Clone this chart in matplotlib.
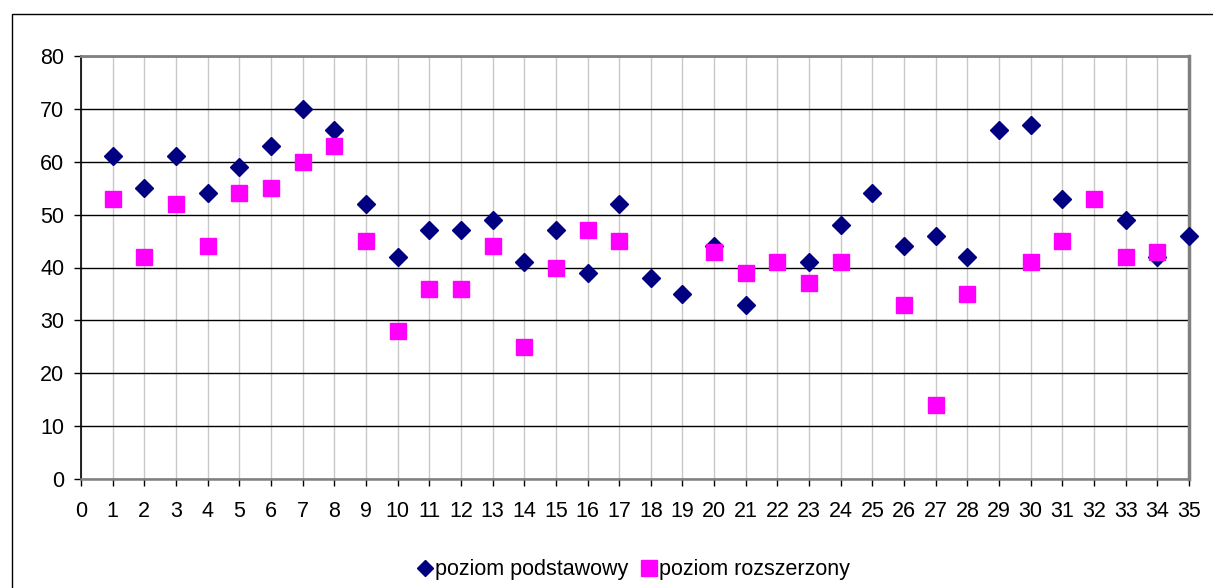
import numpy as np
import matplotlib
matplotlib.use('Agg')
import matplotlib.pyplot as plt
from matplotlib.patches import Rectangle

plt.rcParams['font.family'] = ['Liberation Sans', 'DejaVu Sans']

# Dane (dla 22 i 32 romb nie jest widoczny - schowany pod kwadratem)
nr = list(range(1, 36))
podstawowy = [61, 55, 61, 54, 59, 63, 70, 66, 52, 42, 47, 47, 49, 41, 47, 39, 52, 38, 35, 44,
              33, np.nan, 41, 48, 54, 44, 46, 42, 66, 67, 53, np.nan, 49, 42, 46]
rozszerzony = [53, 42, 52, 44, 54, 55, 60, 63, 45, 28, 36, 36, 44, 25, 40, 47, 45, np.nan, np.nan, 43,
               39, 41, 37, 41, np.nan, 33, 14, 35, np.nan, 41, 45, 53, 42, 43, np.nan]

fig = plt.figure(figsize=(12.13, 5.88), dpi=100)
ax = fig.add_axes([81 / 1213, 1 - 479 / 588, (1189 - 81) / 1213, (479 - 56) / 588])

ax.plot(nr, podstawowy, linestyle='none', marker='D', markersize=8.8, color='#000080',
        label='poziom podstawowy', zorder=3, clip_on=False)
ax.plot(nr, rozszerzony, linestyle='none', marker='s', markersize=11.5, color='#FF00FF',
        label='poziom rozszerzony', zorder=4, clip_on=False)

ax.set_xlim(0, 35)
ax.set_ylim(0, 80)
ax.set_xticks(range(0, 36))
ax.set_yticks(range(0, 81, 10))
ax.tick_params(axis='both', labelsize=15.5, direction='out', length=5, color='black', width=1)
ax.tick_params(axis='x', pad=11)
ax.tick_params(axis='y', pad=7)

ax.yaxis.grid(True, color='black', linewidth=1)
ax.xaxis.grid(True, color='#c8c8c8', linewidth=1)
ax.set_axisbelow(True)

ax.spines['left'].set_color('black')
ax.spines['left'].set_linewidth(1.2)
ax.spines['bottom'].set_color('#808080')
ax.spines['bottom'].set_linewidth(1.8)
ax.spines['top'].set_color('#808080')
ax.spines['top'].set_linewidth(2)
ax.spines['right'].set_color('#808080')
ax.spines['right'].set_linewidth(2.5)

# Ramka całego wykresu
fig.patches.append(Rectangle((12 / 1213, -0.05), 1.1, 1 - 14 / 588 + 0.05, transform=fig.transFigure,
                             fill=False, edgecolor='black', linewidth=1))

fig.legend(loc='center', bbox_to_anchor=(0.522, 0.031), ncol=2, frameon=False, fontsize=15.5,
           handletextpad=0.05, columnspacing=0.6, handlelength=0.8, markerscale=0.95)

plt.savefig('out.png', dpi=100)
plt.close()
